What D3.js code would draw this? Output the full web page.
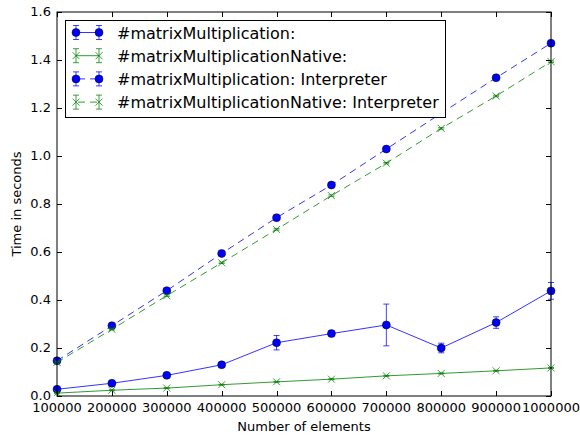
<!DOCTYPE html>
<html><head><meta charset="utf-8">
<script src="https://cdn.jsdelivr.net/npm/d3@7"></script>
<style>html,body{margin:0;padding:0;background:#fff}svg{display:block;font-family:"DejaVu Sans",sans-serif}</style>
</head><body><svg id="c" width="580" height="436"></svg>
<script>
const elements = [100000,200000,300000,400000,500000,600000,700000,800000,900000,1000000];
const mmValues = [0.028,0.053,0.086,0.130,0.222,0.260,0.296,0.200,0.306,0.438];
const mmErrors = [0.004,0.004,0.004,0.004,0.030,0.010,0.087,0.020,0.024,0.035];
const mmNativeValues = [0.012,0.024,0.033,0.047,0.059,0.070,0.084,0.094,0.105,0.117];
const mmNativeErrors = [0.002,0.002,0.002,0.002,0.002,0.002,0.002,0.002,0.002,0.002];
const mmInterpValues = [0.147,0.293,0.439,0.594,0.743,0.879,1.029,1.178,1.326,1.470];
const mmInterpErrors = [0.004,0.004,0.004,0.004,0.004,0.004,0.004,0.004,0.004,0.004];
const mmNativeInterpValues = [0.140,0.278,0.418,0.555,0.694,0.835,0.970,1.115,1.250,1.393];
const mmNativeInterpErrors = [0.003,0.003,0.003,0.003,0.003,0.003,0.003,0.003,0.003,0.003];
const seriesNames = ["#matrixMultiplication:","#matrixMultiplicationNative:","#matrixMultiplication: Interpreter","#matrixMultiplicationNative: Interpreter"];
const xTicks = [100000,200000,300000,400000,500000,600000,700000,800000,900000,1000000];
const yTicks = [0.0,0.2,0.4,0.6,0.8,1.0,1.2,1.4,1.6];

const series = [
  {name:seriesNames[0], v:mmValues, e:mmErrors, color:"#0000ff", marker:"o", dash:null},
  {name:seriesNames[1], v:mmNativeValues, e:mmNativeErrors, color:"#008000", marker:"x", dash:null},
  {name:seriesNames[2], v:mmInterpValues, e:mmInterpErrors, color:"#0000ff", marker:"o", dash:"7,5"},
  {name:seriesNames[3], v:mmNativeInterpValues, e:mmNativeInterpErrors, color:"#008000", marker:"x", dash:"7,5"}
];

const L=57, R=551, T=12, B=396;
const svg = d3.select("#c");
const x = d3.scaleLinear().domain([100000,1000000]).range([L,R]);
const y = d3.scaleLinear().domain([0,1.6]).range([B,T]);
const fs = 13;

const defs = svg.append("defs");
defs.append("clipPath").attr("id","clip").append("rect").attr("x",L-6).attr("y",T).attr("width",R-L+12).attr("height",B-T);

const plot = svg.append("g").attr("clip-path","url(#clip)");

function drawMarker(g, cx, cy, s){
  if(s.marker==="o"){
    g.append("circle").attr("cx",cx).attr("cy",cy).attr("r",4).attr("fill",s.color).attr("stroke","#000").attr("stroke-width",0.5);
  } else {
    const d=3.5;
    g.append("path").attr("d",`M${cx-d},${cy-d}L${cx+d},${cy+d}M${cx-d},${cy+d}L${cx+d},${cy-d}`)
      .attr("stroke",s.color).attr("stroke-width",1).attr("opacity",0.75);
  }
}

series.forEach(s=>{
  const g = plot.append("g");
  const line = d3.line().x((d,i)=>x(elements[i])).y(d=>y(d));
  g.append("path").datum(s.v).attr("d",line).attr("fill","none").attr("stroke",s.color)
    .attr("stroke-width",1).attr("stroke-opacity",0.8).attr("stroke-dasharray",s.dash);
  s.v.forEach((v,i)=>{
    const cx=x(elements[i]), y1=y(v+s.e[i]), y2=y(v-s.e[i]);
    g.append("path").attr("d",`M${cx},${y1}L${cx},${y2}M${cx-3},${y1}L${cx+3},${y1}M${cx-3},${y2}L${cx+3},${y2}`)
      .attr("stroke",s.color).attr("stroke-width",1).attr("stroke-opacity",0.75).attr("fill","none");
  });
  s.v.forEach((v,i)=>drawMarker(g, x(elements[i]), y(v), s));
});

// axes frame and ticks
const ax = svg.append("g");
ax.append("rect").attr("x",L).attr("y",T).attr("width",R-L).attr("height",B-T).attr("fill","none").attr("stroke","#000").attr("stroke-width",1);
xTicks.forEach(t=>{
  const px=Math.round(x(t))+0.5;
  ax.append("line").attr("x1",px).attr("x2",px).attr("y1",B).attr("y2",B-5).attr("stroke","#000");
  ax.append("line").attr("x1",px).attr("x2",px).attr("y1",T).attr("y2",T+5).attr("stroke","#000");
  ax.append("text").attr("x",x(t)).attr("y",B+15.5).attr("text-anchor","middle").attr("font-size",fs).text(t);
});
yTicks.forEach(t=>{
  const py=Math.round(y(t))+0.5;
  ax.append("line").attr("x1",L).attr("x2",L+5).attr("y1",py).attr("y2",py).attr("stroke","#000");
  ax.append("line").attr("x1",R).attr("x2",R-5).attr("y1",py).attr("y2",py).attr("stroke","#000");
  ax.append("text").attr("x",L-6).attr("y",y(t)+4).attr("text-anchor","end").attr("font-size",fs).text(t.toFixed(1));
});
svg.append("text").attr("x",(L+R)/2).attr("y",431).attr("text-anchor","middle").attr("font-size",fs).text("Number of elements");
svg.append("text").attr("transform",`translate(21,${(T+B)/2}) rotate(-90)`).attr("text-anchor","middle").attr("font-size",fs).text("Time in seconds");

// legend
const lg = svg.append("g");
lg.append("rect").attr("x",65.5).attr("y",20.5).attr("width",380).attr("height",97).attr("fill","#fff").attr("stroke","#000").attr("stroke-width",1);
series.forEach((s,i)=>{
  const cy = 32.5 + i*23.2;
  const x1=76, x2=99;
  lg.append("line").attr("x1",x1).attr("x2",x2).attr("y1",cy).attr("y2",cy).attr("stroke",s.color)
    .attr("stroke-opacity",0.8).attr("stroke-dasharray",s.dash?"7,5":null).attr("stroke-dashoffset",s.dash?-2:0);
  [x1,x2].forEach(px=>{
    lg.append("path").attr("d",`M${px},${cy-7}L${px},${cy+7}M${px-3},${cy-7}L${px+3},${cy-7}M${px-3},${cy+7}L${px+3},${cy+7}`)
      .attr("stroke",s.color).attr("stroke-opacity",0.75).attr("fill","none");
    drawMarker(lg, px, cy, s);
  });
  lg.append("text").attr("x",117).attr("y",cy+6).attr("font-size",16).text(s.name);
});
</script></body></html>
